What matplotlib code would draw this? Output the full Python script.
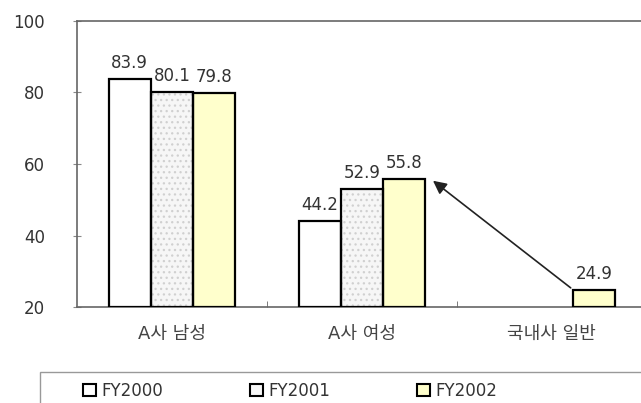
import numpy as np
import matplotlib.pyplot as plt
from matplotlib.patches import Rectangle

plt.rcParams['font.family'] = ['DejaVu Sans', 'Noto Sans CJK KR']
plt.rcParams['hatch.linewidth'] = 0.9

categories = ['A사 남성', 'A사 여성', '국내사 일반']
series = ['FY2000', 'FY2001', 'FY2002']
fy2000 = [83.9, 44.2, None]
fy2001 = [80.1, 52.9, None]
fy2002 = [79.8, 55.8, 24.9]
yticks = [20, 40, 60, 80, 100]

values = [fy2000, fy2001, fy2002]
faces = ['white', '#f6f6f6', '#ffffcc']
hatches = [None, '...', None]

fig = plt.figure(figsize=(6.41, 4.03), dpi=100)
ax = fig.add_axes([0.120, 0.238, 0.889, 0.710])

x = np.arange(len(categories))
w = 0.222
for k, vals in enumerate(values):
    for i, v in enumerate(vals):
        if v is None:
            continue
        xb = x[i] + (k - 1) * w
        # fill (with light dotted pattern) first, black outline on top
        ax.bar(xb, v - 20, bottom=20, width=w, color=faces[k], hatch=hatches[k],
               edgecolor='#d0d0d0', linewidth=0, zorder=3)
        ax.bar(xb, v - 20, bottom=20, width=w, fill=False,
               edgecolor='black', linewidth=1.6, zorder=4)
        ax.annotate('%.1f' % v, (xb, v), xytext=(0, 5), textcoords='offset points',
                    ha='center', va='bottom', fontsize=12, color='#333333', zorder=5)

# arrow from the general-company bar to the FY2002 female bar
ax.annotate('', xy=(x[1] + 1.5 * w + 0.03, fy2002[1]), xytext=(x[2] + 0.5 * w, fy2002[2]),
            arrowprops=dict(arrowstyle='-|>', color='#222222', lw=1.2, mutation_scale=20),
            zorder=6)

ax.set_xlim(-0.5, 2.5)
ax.set_ylim(20, 100)
ax.set_yticks(yticks)
ax.set_yticklabels([str(t) for t in yticks], fontsize=12, color='#333333')
ax.set_xticks(x)
ax.set_xticklabels(categories, fontsize=13, color='#444444')
ax.set_xticks([0.5, 1.5], minor=True)
ax.tick_params(axis='x', which='major', length=0, pad=13)
ax.tick_params(axis='x', which='minor', direction='in', length=4, color='#666666')
ax.tick_params(axis='y', direction='inout', length=6, color='#888888', pad=20)
for s in ['left', 'top', 'bottom']:
    ax.spines[s].set_color('#666666')
    ax.spines[s].set_linewidth(1.2)
ax.spines['right'].set_visible(False)

# legend box running off the bottom edge
fig.patches.append(Rectangle((0.062, -0.1), 0.96, 0.177, transform=fig.transFigure,
                             facecolor='white', edgecolor='#999999', linewidth=1.0))
handles = [Rectangle((0, 0), 1, 1, facecolor=faces[k], edgecolor='black', linewidth=1.5)
           for k in range(3)]
fig.legend(handles, series, loc='center left', bbox_to_anchor=(0.106, 0.03), ncol=3,
           frameon=False, fontsize=12, handlelength=0.8, handleheight=0.8,
           handletextpad=0.3, columnspacing=5.2, labelcolor='#333333')

fig.savefig('out.png', dpi=100)
